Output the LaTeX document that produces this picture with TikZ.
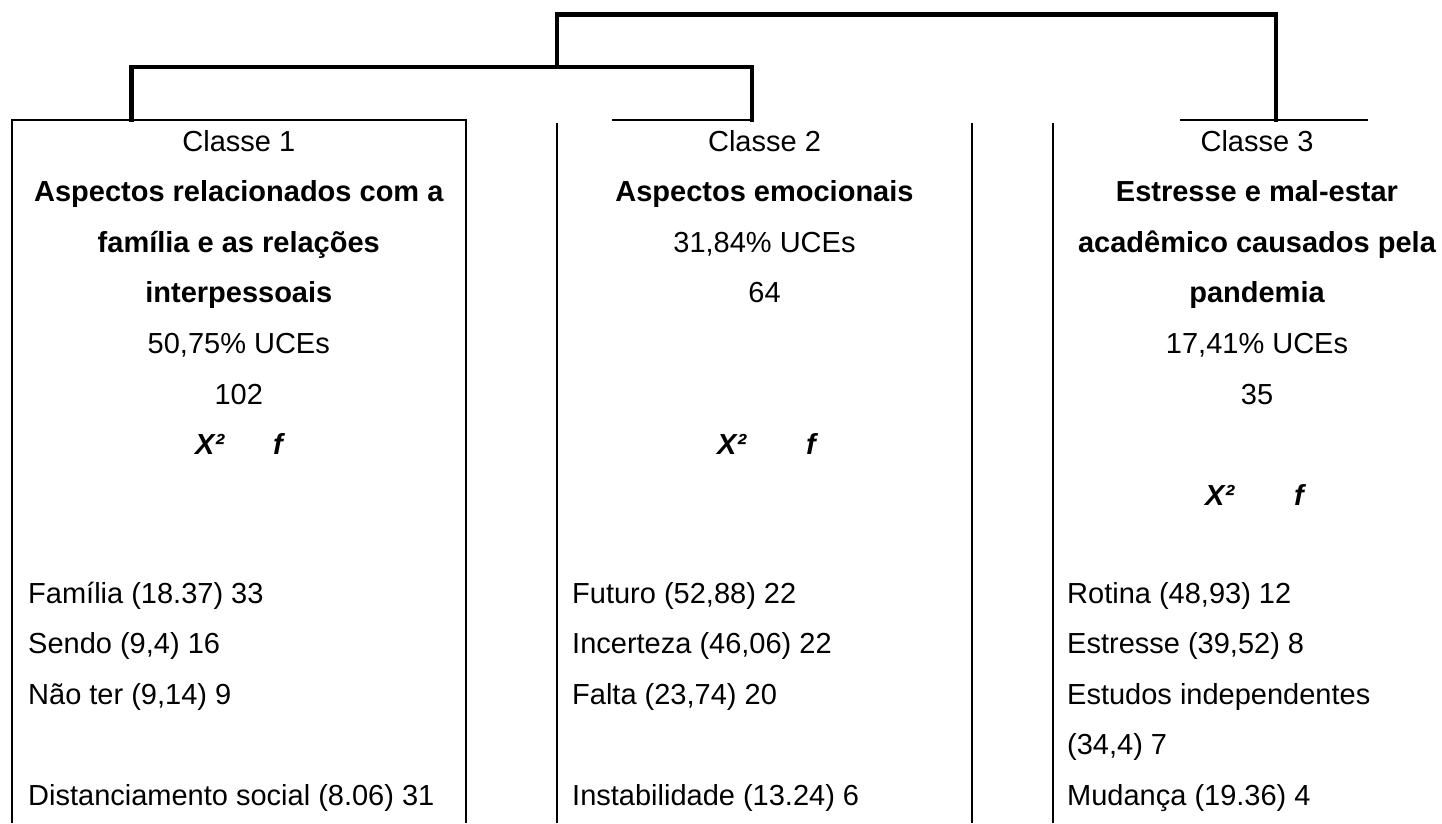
\documentclass[tikz,border=0pt]{standalone}
\usepackage{fontspec}
\setmainfont{Liberation Sans}
\begin{document}
\begin{tikzpicture}[x=1pt,y=-1pt,
  thick line/.style={line width=4.5pt,line join=miter,line cap=rect},
  thin line/.style={line width=2pt},
  txt/.style={inner sep=0pt,font=\fontsize{29pt}{35pt}\selectfont},
  ctxt/.style={txt,anchor=base},
  ltxt/.style={txt,anchor=base west},
  btxt/.style={ctxt,font=\fontsize{29pt}{35pt}\selectfont\bfseries},
  itxt/.style={txt,anchor=base west,font=\fontsize{29pt}{35pt}\selectfont\bfseries\itshape}]
\useasboundingbox[fill=white] (0,0) rectangle (1442,823);
% dendrogram coordinates
\coordinate (topL) at (557,14.7);
\coordinate (topR) at (1276,14.7);
\coordinate (midC) at (557,67);
\coordinate (midL) at (131.5,67);
\coordinate (midR) at (752,67);
\coordinate (c1top) at (131.5,120);
\coordinate (c2top) at (752,120);
\coordinate (c3top) at (1276,120);
% boxes
\coordinate (b1tl) at (12,120);
\coordinate (b1tr) at (465.5,120);
\coordinate (b1bl) at (12,823);
\coordinate (b1br) at (465.5,823);
\coordinate (b2a) at (612,120);
\coordinate (b2l) at (557,123);
\coordinate (b2lb) at (557,823);
\coordinate (b2r) at (972,123);
\coordinate (b2rb) at (972,823);
\coordinate (b3a) at (1180,120);
\coordinate (b3b) at (1368,120);
\coordinate (b3l) at (1053,123);
\coordinate (b3lb) at (1053,823);
% thick dendrogram
\draw[thick line] (midC) -- (topL) -- (topR) -- (c3top);
\draw[thick line] (c1top) -- (midL) -- (midR) -- (c2top);
% thin box lines
\draw[thin line] (b1bl) -- (b1tl) -- (b1tr) -- (b1br);
\draw[thin line] (b2a) -- (c2top);
\draw[thin line] (b2l) -- (b2lb);
\draw[thin line] (b2r) -- (b2rb);
\draw[thin line] (b3a) -- (b3b);
\draw[thin line] (b3l) -- (b3lb);
% Classe 1
\node[ctxt] (c1h) at (238.8,151) {Classe 1};
\node[btxt] (c1t1) at (238.8,201.5) {Aspectos relacionados com a};
\node[btxt] (c1t2) at (238.8,252) {família e as relações};
\node[btxt] (c1t3) at (238.8,302.5) {interpessoais};
\node[ctxt] (c1p) at (238.8,353) {50,75\% UCEs};
\node[ctxt] (c1n) at (238.8,404) {102};
\node[itxt] (c1x) at (195,454.5) {X²};
\node[itxt] (c1f) at (273,454.5) {f};
\node[ltxt] (c1l1) at (28,603) {Família (18.37) 33};
\node[ltxt] (c1l2) at (28,653.5) {Sendo (9,4) 16};
\node[ltxt] (c1l3) at (28,704) {Não ter (9,14) 9};
\node[ltxt] (c1l4) at (28,805) {Distanciamento social (8.06) 31};
% Classe 2
\node[ctxt] (c2h) at (764.5,151) {Classe 2};
\node[btxt] (c2t1) at (764.5,201.5) {Aspectos emocionais};
\node[ctxt] (c2p) at (764.5,252) {31,84\% UCEs};
\node[ctxt] (c2n) at (764.5,302.5) {64};
\node[itxt] (c2x) at (717,454.5) {X²};
\node[itxt] (c2f) at (806,454.5) {f};
\node[ltxt] (c2l1) at (572,603) {Futuro (52,88) 22};
\node[ltxt] (c2l2) at (572,653.5) {Incerteza (46,06) 22};
\node[ltxt] (c2l3) at (572,704) {Falta (23,74) 20};
\node[ltxt] (c2l4) at (572,805) {Instabilidade (13.24) 6};
% Classe 3
\node[ctxt] (c3h) at (1257,151) {Classe 3};
\node[btxt] (c3t1) at (1257,201.5) {Estresse e mal-estar};
\node[btxt] (c3t2) at (1257,252) {acadêmico causados pela};
\node[btxt] (c3t3) at (1257,302.5) {pandemia};
\node[ctxt] (c3p) at (1257,353) {17,41\% UCEs};
\node[ctxt] (c3n) at (1257,404) {35};
\node[itxt] (c3x) at (1205,505) {X²};
\node[itxt] (c3f) at (1294,505) {f};
\node[ltxt] (c3l1) at (1067,603) {Rotina (48,93) 12};
\node[ltxt] (c3l2) at (1067,653.5) {Estresse (39,52) 8};
\node[ltxt] (c3l3) at (1067,704) {Estudos independentes};
\node[ltxt] (c3l4) at (1067,754.5) {(34,4) 7};
\node[ltxt] (c3l5) at (1067,805) {Mudança (19.36) 4};
\end{tikzpicture}
\end{document}
